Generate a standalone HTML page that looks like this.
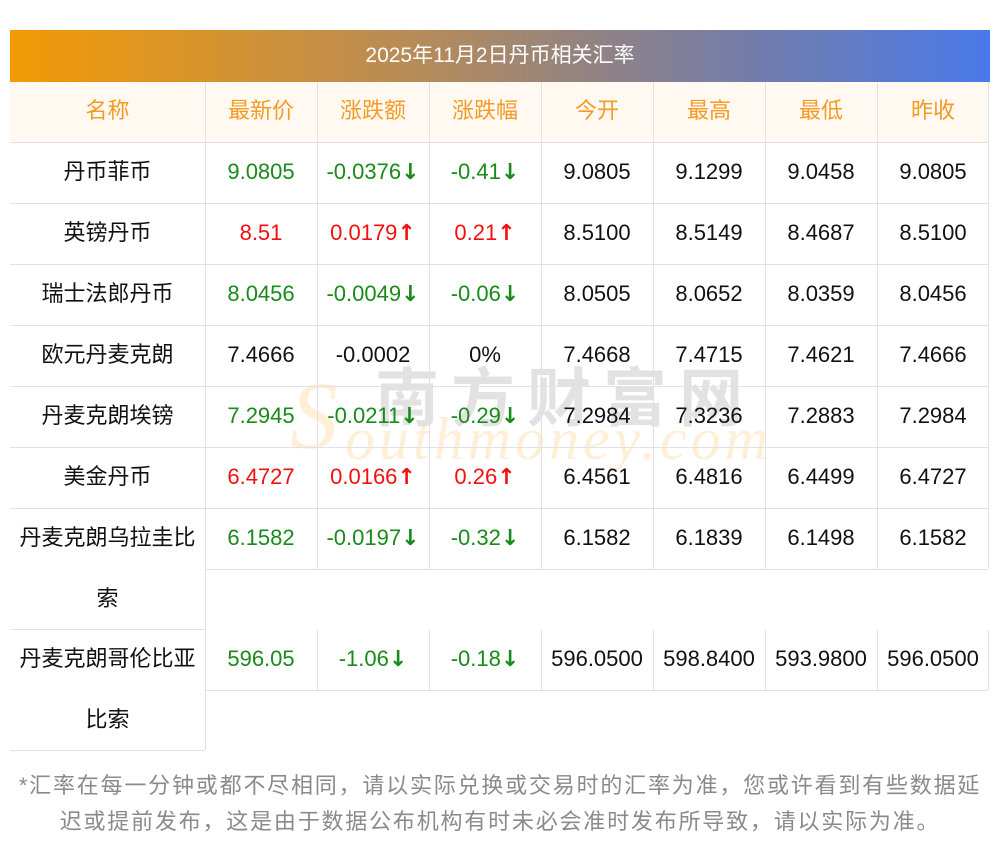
<!DOCTYPE html>
<html><head><meta charset="utf-8"><style>
body{margin:0;width:1000px;height:853px;background:#fff;position:relative;overflow:hidden;font-family:"Liberation Sans","Noto Sans CJK SC",sans-serif;}
.t{position:absolute;text-align:center;font-size:22px;line-height:61px;height:61px;color:#111;white-space:nowrap}
.h{position:absolute;background:#dfe0ea}
.g{color:#1a8a1a}.r{color:#f01010}.o{color:#f59a23}
.a{font-family:"DejaVu Sans",sans-serif;font-size:22px;font-weight:bold}
</style></head><body>
<div style="position:absolute;left:10px;top:30px;width:980px;height:52px;background:linear-gradient(90deg,#f39a05,#b98c55 40%,#7d7e9c 70%,#4a79ea);color:#fff;font-size:21px;line-height:52px;text-align:center">2025年11月2日丹币相关汇率</div>
<div style="position:absolute;left:10px;top:82px;width:978px;height:60px;background:#fff9f2"></div>
<div style="position:absolute;left:375px;top:348px;font-size:64px;color:rgba(150,150,150,0.28);letter-spacing:12px;font-weight:bold;font-family:'Noto Sans CJK SC',sans-serif">南方财富网</div>
<div style="position:absolute;left:290px;top:360px;font-size:96px;color:rgba(255,210,140,0.35);font-style:italic;font-family:'Liberation Serif',serif">S</div>
<div style="position:absolute;left:345px;top:405px;font-size:60px;color:rgba(255,210,140,0.35);font-style:italic;font-family:'Liberation Serif',serif;letter-spacing:4px">outhmoney.com</div>
<div class="h" style="left:10px;top:142px;width:978px;height:1px"></div>
<div class="h" style="left:10px;top:203px;width:978px;height:1px"></div>
<div class="h" style="left:10px;top:264px;width:978px;height:1px"></div>
<div class="h" style="left:10px;top:325px;width:978px;height:1px"></div>
<div class="h" style="left:10px;top:386px;width:978px;height:1px"></div>
<div class="h" style="left:10px;top:447px;width:978px;height:1px"></div>
<div class="h" style="left:10px;top:508px;width:978px;height:1px"></div>
<div class="h" style="left:205px;top:569px;width:783px;height:1px"></div>
<div class="h" style="left:10px;top:629px;width:195px;height:1px"></div>
<div class="h" style="left:205px;top:690px;width:783px;height:1px"></div>
<div class="h" style="left:10px;top:750px;width:195px;height:1px"></div>
<div class="h" style="left:205px;top:82px;width:1px;height:668px"></div>
<div class="h" style="left:317px;top:82px;width:1px;height:487px"></div><div class="h" style="left:317px;top:630px;width:1px;height:60px"></div>
<div class="h" style="left:429px;top:82px;width:1px;height:487px"></div><div class="h" style="left:429px;top:630px;width:1px;height:60px"></div>
<div class="h" style="left:541px;top:82px;width:1px;height:487px"></div><div class="h" style="left:541px;top:630px;width:1px;height:60px"></div>
<div class="h" style="left:653px;top:82px;width:1px;height:487px"></div><div class="h" style="left:653px;top:630px;width:1px;height:60px"></div>
<div class="h" style="left:765px;top:82px;width:1px;height:487px"></div><div class="h" style="left:765px;top:630px;width:1px;height:60px"></div>
<div class="h" style="left:877px;top:82px;width:1px;height:487px"></div><div class="h" style="left:877px;top:630px;width:1px;height:60px"></div>
<div class="h" style="left:988px;top:82px;width:1px;height:487px"></div><div class="h" style="left:988px;top:630px;width:1px;height:60px"></div>

<div class="t o" style="left:10px;top:80px;width:195px">名称</div>
<div class="t o" style="left:205px;top:80px;width:112px">最新价</div>
<div class="t o" style="left:317px;top:80px;width:112px">涨跌额</div>
<div class="t o" style="left:429px;top:80px;width:112px">涨跌幅</div>
<div class="t o" style="left:541px;top:80px;width:112px">今开</div>
<div class="t o" style="left:653px;top:80px;width:112px">最高</div>
<div class="t o" style="left:765px;top:80px;width:112px">最低</div>
<div class="t o" style="left:877px;top:80px;width:112px">昨收</div>

<div class="t" style="left:10px;top:141px;width:195px">丹币菲币</div>
<div class="t g" style="left:205px;top:141px;width:112px">9.0805</div>
<div class="t g" style="left:317px;top:141px;width:112px">-0.0376<span class="a">↓</span></div>
<div class="t g" style="left:429px;top:141px;width:112px">-0.41<span class="a">↓</span></div>
<div class="t" style="left:541px;top:141px;width:112px">9.0805</div>
<div class="t" style="left:653px;top:141px;width:112px">9.1299</div>
<div class="t" style="left:765px;top:141px;width:112px">9.0458</div>
<div class="t" style="left:877px;top:141px;width:112px">9.0805</div>

<div class="t" style="left:10px;top:202px;width:195px">英镑丹币</div>
<div class="t r" style="left:205px;top:202px;width:112px">8.51</div>
<div class="t r" style="left:317px;top:202px;width:112px">0.0179<span class="a">↑</span></div>
<div class="t r" style="left:429px;top:202px;width:112px">0.21<span class="a">↑</span></div>
<div class="t" style="left:541px;top:202px;width:112px">8.5100</div>
<div class="t" style="left:653px;top:202px;width:112px">8.5149</div>
<div class="t" style="left:765px;top:202px;width:112px">8.4687</div>
<div class="t" style="left:877px;top:202px;width:112px">8.5100</div>

<div class="t" style="left:10px;top:263px;width:195px">瑞士法郎丹币</div>
<div class="t g" style="left:205px;top:263px;width:112px">8.0456</div>
<div class="t g" style="left:317px;top:263px;width:112px">-0.0049<span class="a">↓</span></div>
<div class="t g" style="left:429px;top:263px;width:112px">-0.06<span class="a">↓</span></div>
<div class="t" style="left:541px;top:263px;width:112px">8.0505</div>
<div class="t" style="left:653px;top:263px;width:112px">8.0652</div>
<div class="t" style="left:765px;top:263px;width:112px">8.0359</div>
<div class="t" style="left:877px;top:263px;width:112px">8.0456</div>

<div class="t" style="left:10px;top:324px;width:195px">欧元丹麦克朗</div>
<div class="t" style="left:205px;top:324px;width:112px">7.4666</div>
<div class="t" style="left:317px;top:324px;width:112px">-0.0002</div>
<div class="t" style="left:429px;top:324px;width:112px">0%</div>
<div class="t" style="left:541px;top:324px;width:112px">7.4668</div>
<div class="t" style="left:653px;top:324px;width:112px">7.4715</div>
<div class="t" style="left:765px;top:324px;width:112px">7.4621</div>
<div class="t" style="left:877px;top:324px;width:112px">7.4666</div>

<div class="t" style="left:10px;top:385px;width:195px">丹麦克朗埃镑</div>
<div class="t g" style="left:205px;top:385px;width:112px">7.2945</div>
<div class="t g" style="left:317px;top:385px;width:112px">-0.0211<span class="a">↓</span></div>
<div class="t g" style="left:429px;top:385px;width:112px">-0.29<span class="a">↓</span></div>
<div class="t" style="left:541px;top:385px;width:112px">7.2984</div>
<div class="t" style="left:653px;top:385px;width:112px">7.3236</div>
<div class="t" style="left:765px;top:385px;width:112px">7.2883</div>
<div class="t" style="left:877px;top:385px;width:112px">7.2984</div>

<div class="t" style="left:10px;top:446px;width:195px">美金丹币</div>
<div class="t r" style="left:205px;top:446px;width:112px">6.4727</div>
<div class="t r" style="left:317px;top:446px;width:112px">0.0166<span class="a">↑</span></div>
<div class="t r" style="left:429px;top:446px;width:112px">0.26<span class="a">↑</span></div>
<div class="t" style="left:541px;top:446px;width:112px">6.4561</div>
<div class="t" style="left:653px;top:446px;width:112px">6.4816</div>
<div class="t" style="left:765px;top:446px;width:112px">6.4499</div>
<div class="t" style="left:877px;top:446px;width:112px">6.4727</div>

<div class="t" style="left:10px;top:507px;width:195px">丹麦克朗乌拉圭比</div>
<div class="t" style="left:10px;top:568px;width:195px">索</div>
<div class="t g" style="left:205px;top:507px;width:112px">6.1582</div>
<div class="t g" style="left:317px;top:507px;width:112px">-0.0197<span class="a">↓</span></div>
<div class="t g" style="left:429px;top:507px;width:112px">-0.32<span class="a">↓</span></div>
<div class="t" style="left:541px;top:507px;width:112px">6.1582</div>
<div class="t" style="left:653px;top:507px;width:112px">6.1839</div>
<div class="t" style="left:765px;top:507px;width:112px">6.1498</div>
<div class="t" style="left:877px;top:507px;width:112px">6.1582</div>

<div class="t" style="left:10px;top:628px;width:195px">丹麦克朗哥伦比亚</div>
<div class="t" style="left:10px;top:689px;width:195px">比索</div>
<div class="t g" style="left:205px;top:628px;width:112px">596.05</div>
<div class="t g" style="left:317px;top:628px;width:112px">-1.06<span class="a">↓</span></div>
<div class="t g" style="left:429px;top:628px;width:112px">-0.18<span class="a">↓</span></div>
<div class="t" style="left:541px;top:628px;width:112px">596.0500</div>
<div class="t" style="left:653px;top:628px;width:112px">598.8400</div>
<div class="t" style="left:765px;top:628px;width:112px">593.9800</div>
<div class="t" style="left:877px;top:628px;width:112px">596.0500</div>

<div style="position:absolute;left:0px;top:768px;width:1000px;text-align:center;font-size:22px;letter-spacing:1.8px;line-height:36px;color:#8a8a8a;white-space:nowrap">*汇率在每一分钟或都不尽相同，请以实际兑换或交易时的汇率为准，您或许看到有些数据延<br>迟或提前发布，这是由于数据公布机构有时未必会准时发布所导致，请以实际为准。</div>
</body></html>
